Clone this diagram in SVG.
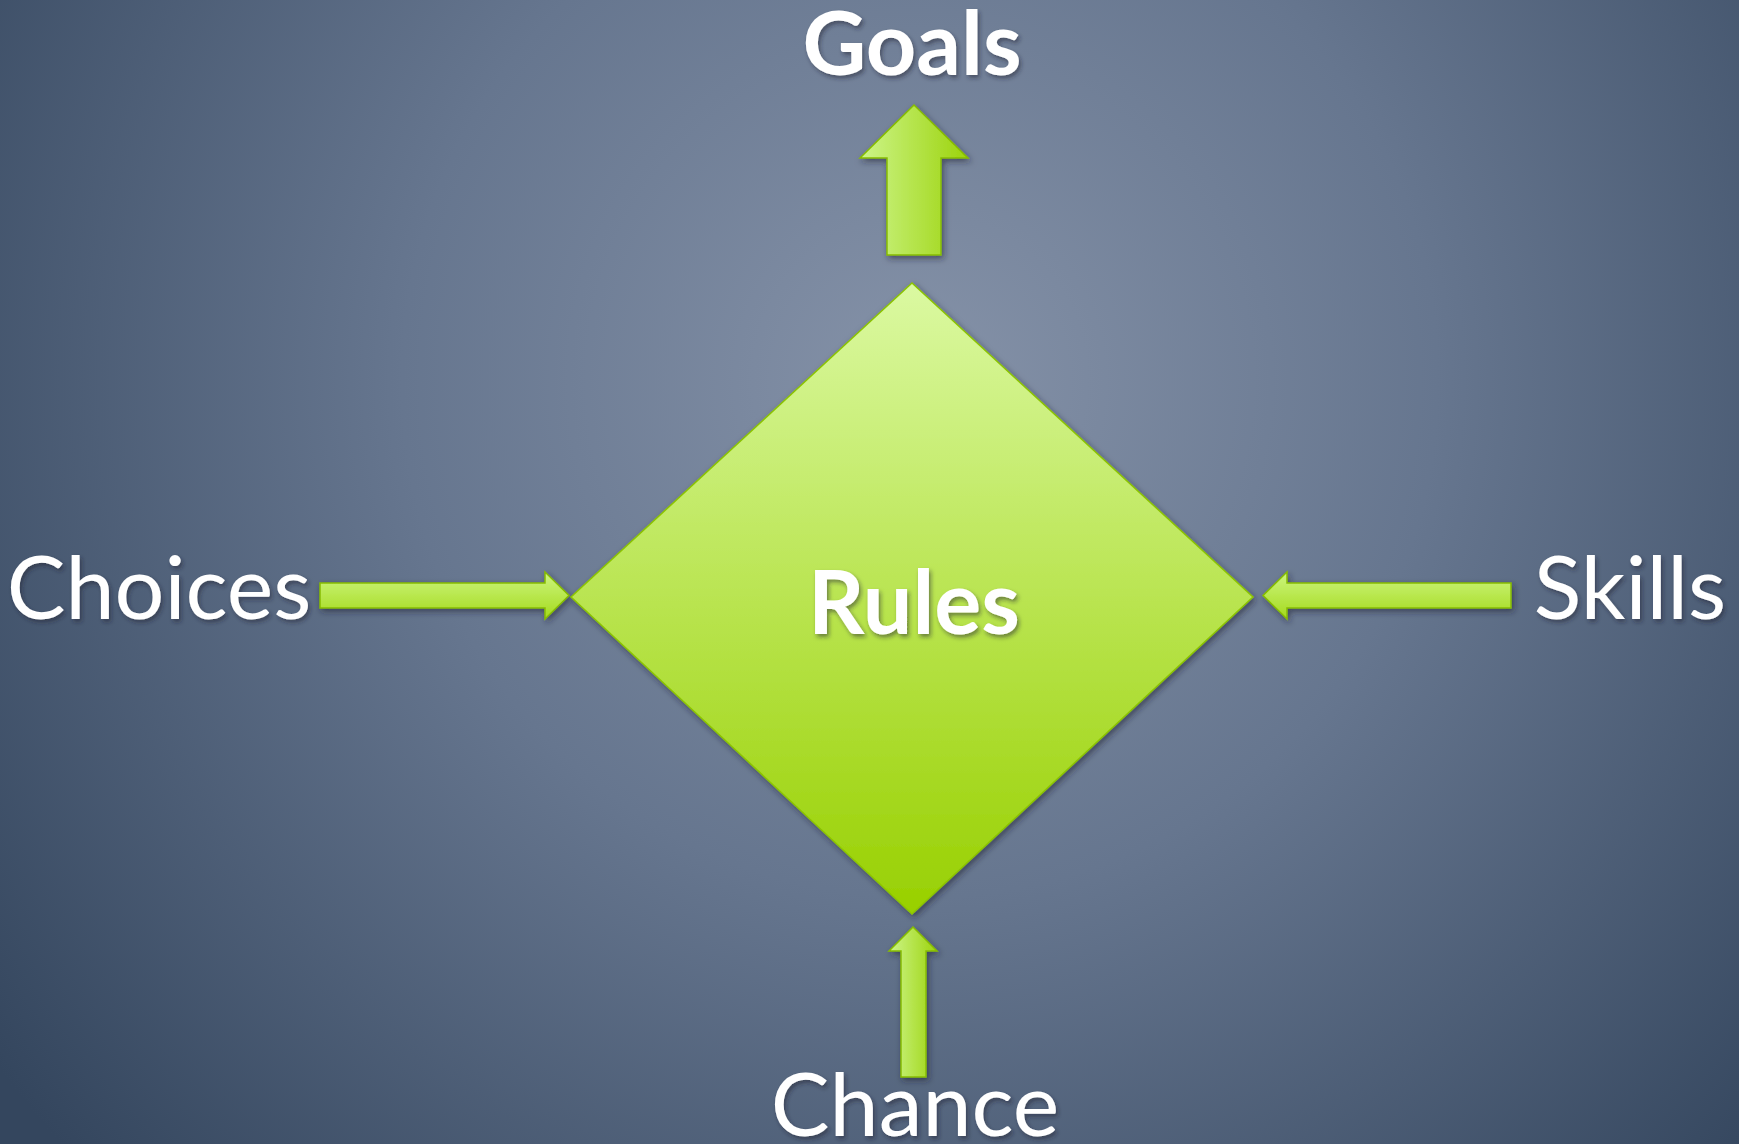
<svg xmlns="http://www.w3.org/2000/svg" width="1739" height="1144" viewBox="0 0 1739 1144">
<defs>
<radialGradient id="bg" cx="920" cy="380" r="1150" gradientUnits="userSpaceOnUse">
<stop offset="0" stop-color="#8592a8"/>
<stop offset="0.45" stop-color="#66768f"/>
<stop offset="1" stop-color="#34465e"/>
</radialGradient>
<linearGradient id="dia" x1="0" y1="0" x2="0" y2="1">
<stop offset="0" stop-color="#dbf9a2"/>
<stop offset="1" stop-color="#98d000"/>
</linearGradient>
<linearGradient id="vg" x1="0" y1="0" x2="1" y2="0">
<stop offset="0" stop-color="#cdf58a"/>
<stop offset="1" stop-color="#9cd30c"/>
</linearGradient>
<linearGradient id="hg" x1="0" y1="0" x2="0" y2="1">
<stop offset="0" stop-color="#cdf580"/>
<stop offset="1" stop-color="#a4da1c"/>
</linearGradient>
<filter id="sh" x="-20%" y="-20%" width="140%" height="140%">
<feDropShadow dx="2" dy="3" stdDeviation="3" flood-color="#1a2433" flood-opacity="0.55"/>
</filter>
<filter id="tsh" x="-10%" y="-10%" width="120%" height="130%">
<feDropShadow dx="2" dy="3" stdDeviation="2" flood-color="#1a2433" flood-opacity="0.5"/>
</filter>
</defs>
<style>
.lbl{font-family:Lato,"Open Sans","Liberation Sans",sans-serif;fill:#ffffff;font-size:88px;}
.bold{font-weight:bold;}
.arr{stroke:#86bc00;stroke-width:1.5;stroke-linejoin:miter;filter:url(#sh);}
</style>
<rect x="0" y="0" width="1739" height="1144" fill="url(#bg)"/>
<g id="connectors">
<path class="arr" fill="url(#vg)" d="M914,105 L968,158 L941,158 L941,255 L887,255 L887,158 L860,158 Z"/>
<path class="arr" fill="url(#hg)" d="M320,583 L545,583 L545,572 L569,595.5 L545,619 L545,608 L320,608 Z"/>
<path class="arr" fill="url(#hg)" d="M1511,583 L1287,583 L1287,572 L1263,595.5 L1287,619 L1287,608 L1511,608 Z"/>
<path class="arr" fill="url(#vg)" d="M913,927 L937,951 L926,951 L926,1077 L901,1077 L901,951 L889,951 Z"/>
</g>
<g id="rules">
<path fill="url(#dia)" stroke="#8cc400" stroke-width="1.5" filter="url(#sh)" d="M912,283 L1253,597 L912,914 L571,597 Z"/>
<text class="lbl bold" x="914" y="634" text-anchor="middle" font-size="84" filter="url(#tsh)">Rules</text>
</g>
<g id="goals">
<text class="lbl bold" x="912" y="75" text-anchor="middle" font-size="88" filter="url(#tsh)">Goals</text>
</g>
<g id="choices">
<text class="lbl" x="159" y="619" text-anchor="middle" filter="url(#tsh)">Choices</text>
</g>
<g id="skills">
<text class="lbl" x="1630" y="619" text-anchor="middle" filter="url(#tsh)">Skills</text>
</g>
<g id="chance">
<text class="lbl" x="915" y="1136" text-anchor="middle" filter="url(#tsh)">Chance</text>
</g>
</svg>
